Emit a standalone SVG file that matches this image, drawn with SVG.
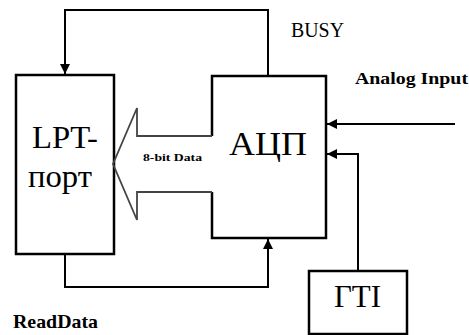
<svg xmlns="http://www.w3.org/2000/svg" width="469" height="335" viewBox="0 0 469 335">
<style>
.box{fill:none;stroke:#000;stroke-width:2.5}
.wire{fill:none;stroke:#000;stroke-width:2}
.big{font-family:"Liberation Serif","DejaVu Serif","Times New Roman",serif;fill:#000}
.lbl{font-family:"Liberation Serif","DejaVu Serif","Times New Roman",serif;fill:#000}
</style>
<defs>
<marker id="ah" viewBox="0 0 10 10" refX="10" refY="5" markerWidth="5" markerHeight="5" orient="auto" markerUnits="strokeWidth">
<path d="M0,0 L10,5 L0,10 z" fill="#000"/>
</marker>
</defs>
<rect width="469" height="335" fill="#fff"/>
<g id="lpt">
<rect class="box" x="16" y="75" width="98" height="179"/>
<text class="big" x="32" y="148" font-size="32" textLength="66" lengthAdjust="spacingAndGlyphs">LPT-</text>
<text class="big" x="28" y="187" font-size="32" textLength="64" lengthAdjust="spacingAndGlyphs">порт</text>
</g>
<g id="adc">
<path class="box" d="M212,136 V76 H326 V238 H212 V192"/>
<text class="big" x="229" y="155" font-size="34" textLength="78" lengthAdjust="spacingAndGlyphs">АЦП</text>
</g>
<g id="gti">
<rect class="box" x="309" y="271" width="98" height="63"/>
<text class="big" x="334" y="307" font-size="31" textLength="47" lengthAdjust="spacingAndGlyphs">ГТІ</text>
</g>
<g id="connectors">
<path class="wire" d="M268,76 V10 H65 V74" marker-end="url(#ah)"/>
<path class="wire" d="M65,254 V287 H268 V239" marker-end="url(#ah)"/>
<path class="wire" d="M455,124 H327" marker-end="url(#ah)"/>
<path class="wire" d="M358,271 V154 H327" marker-end="url(#ah)"/>
<path id="data-arrow" d="M212,136 H137 V108 L113,164 L137,220 V192 H212" fill="none" stroke="#444" stroke-width="1.8"/>
</g>
<g id="labels">
<text class="lbl" x="291" y="37" font-size="20" textLength="53" lengthAdjust="spacingAndGlyphs">BUSY</text>
<text class="lbl" x="355" y="84" font-size="17" font-weight="bold" textLength="113" lengthAdjust="spacingAndGlyphs">Analog Input</text>
<text class="lbl" x="143" y="161" font-size="11" font-weight="bold" textLength="59" lengthAdjust="spacingAndGlyphs">8-bit Data</text>
<text class="lbl" x="13" y="328" font-size="19" font-weight="bold" textLength="85" lengthAdjust="spacingAndGlyphs">ReadData</text>
</g>
</svg>
